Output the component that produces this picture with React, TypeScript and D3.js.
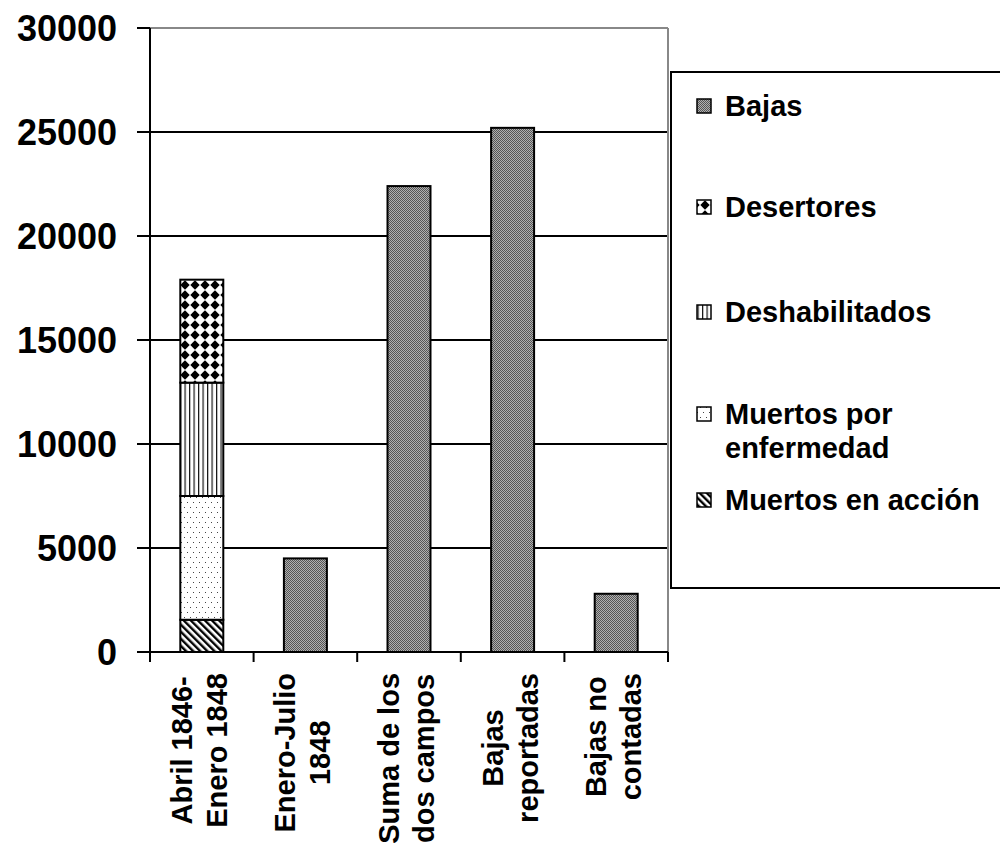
import React, { useEffect, useRef } from "react";
import * as d3 from "d3";

// ---- data ----
const categories: string[][] = [
  ["Abril 1846-", "Enero 1848"],
  ["Enero-Julio", "1848"],
  ["Suma de los", "dos campos"],
  ["Bajas", "reportadas"],
  ["Bajas no", "contadas"],
];
const muertosAccion = [1550, 0, 0, 0, 0];
const muertosEnfermedad = [5950, 0, 0, 0, 0];
const deshabilitados = [5450, 0, 0, 0, 0];
const desertores = [4950, 0, 0, 0, 0];
const bajas = [0, 4500, 22400, 25200, 2800];
const yTicks = [0, 5000, 10000, 15000, 20000, 25000, 30000];

const seriesKeys = ["accion", "enfermedad", "deshabilitados", "desertores", "bajas"];
const seriesLabels: Record<string, string[]> = {
  bajas: ["Bajas"],
  desertores: ["Desertores"],
  deshabilitados: ["Deshabilitados"],
  enfermedad: ["Muertos por", "enfermedad"],
  accion: ["Muertos en acción"],
};
const legendOrder = ["bajas", "desertores", "deshabilitados", "enfermedad", "accion"];

const FONT = "'Liberation Sans', Arial, Helvetica, sans-serif";

export default function App() {
  const ref = useRef<SVGSVGElement | null>(null);

  useEffect(() => {
    const svg = d3.select(ref.current!);
    svg.selectAll("*").remove();

    const W = 1000, H = 844;
    const left = 150, right = 668, top = 28, bottom = 652;

    // patterns
    const defs = svg.append("defs");
    const pB = defs.append("pattern").attr("id", "p-bajas").attr("patternUnits", "userSpaceOnUse")
      .attr("width", 2).attr("height", 2);
    pB.append("rect").attr("width", 2).attr("height", 2).attr("fill", "#b0b0b0");
    pB.append("rect").attr("width", 1).attr("height", 1).attr("fill", "#555");
    pB.append("rect").attr("x", 1).attr("y", 1).attr("width", 1).attr("height", 1).attr("fill", "#555");
    const pD = defs.append("pattern").attr("id", "p-desertores").attr("patternUnits", "userSpaceOnUse")
      .attr("width", 10).attr("height", 10);
    pD.append("rect").attr("width", 10).attr("height", 10).attr("fill", "#fff");
    pD.append("path").attr("d", "M5,0.3 L9.7,5 L5,9.7 L0.3,5 Z").attr("fill", "#000");
    const pV = defs.append("pattern").attr("id", "p-deshab").attr("patternUnits", "userSpaceOnUse")
      .attr("width", 4.5).attr("height", 4);
    pV.append("rect").attr("width", 4.5).attr("height", 4).attr("fill", "#fff");
    pV.append("rect").attr("x", 0).attr("width", 1.2).attr("height", 4).attr("fill", "#111");
    const pE = defs.append("pattern").attr("id", "p-enf").attr("patternUnits", "userSpaceOnUse")
      .attr("width", 6).attr("height", 10);
    pE.append("rect").attr("width", 6).attr("height", 10).attr("fill", "#fff");
    pE.append("rect").attr("x", 1).attr("y", 2).attr("width", 1).attr("height", 1).attr("fill", "#444");
    pE.append("rect").attr("x", 4).attr("y", 7).attr("width", 1).attr("height", 1).attr("fill", "#444");
    const pA = defs.append("pattern").attr("id", "p-accion").attr("patternUnits", "userSpaceOnUse")
      .attr("width", 5).attr("height", 5).attr("patternTransform", "rotate(-45)");
    pA.append("rect").attr("width", 5).attr("height", 5).attr("fill", "#fff");
    pA.append("rect").attr("width", 2.4).attr("height", 5).attr("fill", "#000");

    const fills: Record<string, string> = {
      bajas: "url(#p-bajas)",
      desertores: "url(#p-desertores)",
      deshabilitados: "url(#p-deshab)",
      enfermedad: "url(#p-enf)",
      accion: "url(#p-accion)",
    };

    svg.append("rect").attr("width", W).attr("height", H).attr("fill", "#fff");

    const catIds = categories.map((_, i) => String(i));
    const x = d3.scaleBand<string>().domain(catIds).range([left, right]).paddingInner(0.585).paddingOuter(0.2925);
    const y = d3.scaleLinear().domain([0, 30000]).range([bottom, top]);
    const step = x.step();

    svg.append("g").selectAll("line").data(yTicks.filter(t => t > 0 && t < 30000)).join("line")
      .attr("x1", left).attr("x2", right).attr("y1", d => y(d)).attr("y2", d => y(d))
      .attr("stroke", "#000").attr("stroke-width", 2);
    svg.append("line").attr("x1", left).attr("x2", right).attr("y1", y(30000)).attr("y2", y(30000))
      .attr("stroke", "#888").attr("stroke-width", 2);
    svg.append("line").attr("x1", right).attr("x2", right).attr("y1", top).attr("y2", bottom)
      .attr("stroke", "#888").attr("stroke-width", 2);

    const table = catIds.map((c, i) => ({
      cat: c,
      accion: muertosAccion[i],
      enfermedad: muertosEnfermedad[i],
      deshabilitados: deshabilitados[i],
      desertores: desertores[i],
      bajas: bajas[i],
    }));
    const stacked = d3.stack<any>().keys(seriesKeys)(table);
    const gBars = svg.append("g");
    stacked.forEach(s => {
      gBars.append("g").selectAll("rect")
        .data(s.filter(d => d[1] - d[0] > 0))
        .join("rect")
        .attr("x", d => x(d.data.cat)!)
        .attr("width", x.bandwidth())
        .attr("y", d => y(d[1]))
        .attr("height", d => y(d[0]) - y(d[1]))
        .attr("fill", fills[s.key])
        .attr("stroke", "#000").attr("stroke-width", 2);
    });

    svg.append("line").attr("x1", left).attr("x2", right).attr("y1", bottom).attr("y2", bottom)
      .attr("stroke", "#000").attr("stroke-width", 2);
    svg.append("line").attr("x1", left).attr("x2", left).attr("y1", top).attr("y2", bottom + 10)
      .attr("stroke", "#000").attr("stroke-width", 2);
    svg.append("g").selectAll("line").data(yTicks).join("line")
      .attr("x1", left - 13).attr("x2", left).attr("y1", d => y(d)).attr("y2", d => y(d))
      .attr("stroke", "#000").attr("stroke-width", 2);
    svg.append("g").selectAll("text").data(yTicks).join("text")
      .attr("x", 117).attr("y", d => y(d)).attr("dy", "0.36em")
      .attr("text-anchor", "end").attr("font-family", FONT).attr("font-weight", "bold")
      .attr("font-size", 36).attr("fill", "#000").text(d => String(d));
    svg.append("g").selectAll("line").data(d3.range(categories.length + 1)).join("line")
      .attr("x1", d => left + d * step).attr("x2", d => left + d * step)
      .attr("y1", bottom).attr("y2", bottom + 10)
      .attr("stroke", "#000").attr("stroke-width", 2);

    const labelTop = 673;
    const lineH = 35;
    categories.forEach((lines, i) => {
      const cx = x(String(i))! + x.bandwidth() / 2;
      const g = svg.append("g");
      const texts = lines.map((ln, j) => {
        const base = cx - 10 + j * lineH;
        return g.append("text").attr("font-family", FONT).attr("font-weight", "bold")
          .attr("font-size", 29).attr("text-anchor", "middle").attr("fill", "#000")
          .attr("data-base", base).text(ln);
      });
      const maxLen = d3.max(texts.map(t => (t.node() as SVGTextElement).getComputedTextLength())) || 0;
      texts.forEach(t => {
        const base = +t.attr("data-base");
        const yc = labelTop + maxLen / 2;
        t.attr("transform", `translate(${base},${yc}) rotate(-90)`);
      });
    });

    svg.append("rect").attr("x", 671).attr("y", 72).attr("width", 340).attr("height", 516)
      .attr("fill", "#fff").attr("stroke", "#000").attr("stroke-width", 2);
    const legendY = [106, 207, 312, 414, 500];
    legendOrder.forEach((k, i) => {
      const cy = legendY[i];
      svg.append("rect").attr("x", 697).attr("y", cy - 7).attr("width", 14).attr("height", 14)
        .attr("fill", fills[k]).attr("stroke", "#000").attr("stroke-width", 1.5);
      seriesLabels[k].forEach((ln, j) => {
        svg.append("text").attr("x", 725).attr("y", cy + j * 34).attr("dy", "0.36em")
          .attr("font-family", FONT).attr("font-weight", "bold").attr("font-size", 29)
          .attr("fill", "#000").text(ln);
      });
    });
  }, []);

  return (
    <svg
      ref={ref}
      width={1000}
      height={844}
      style={{ position: "absolute", left: 0, top: 0, display: "block" }}
    />
  );
}
